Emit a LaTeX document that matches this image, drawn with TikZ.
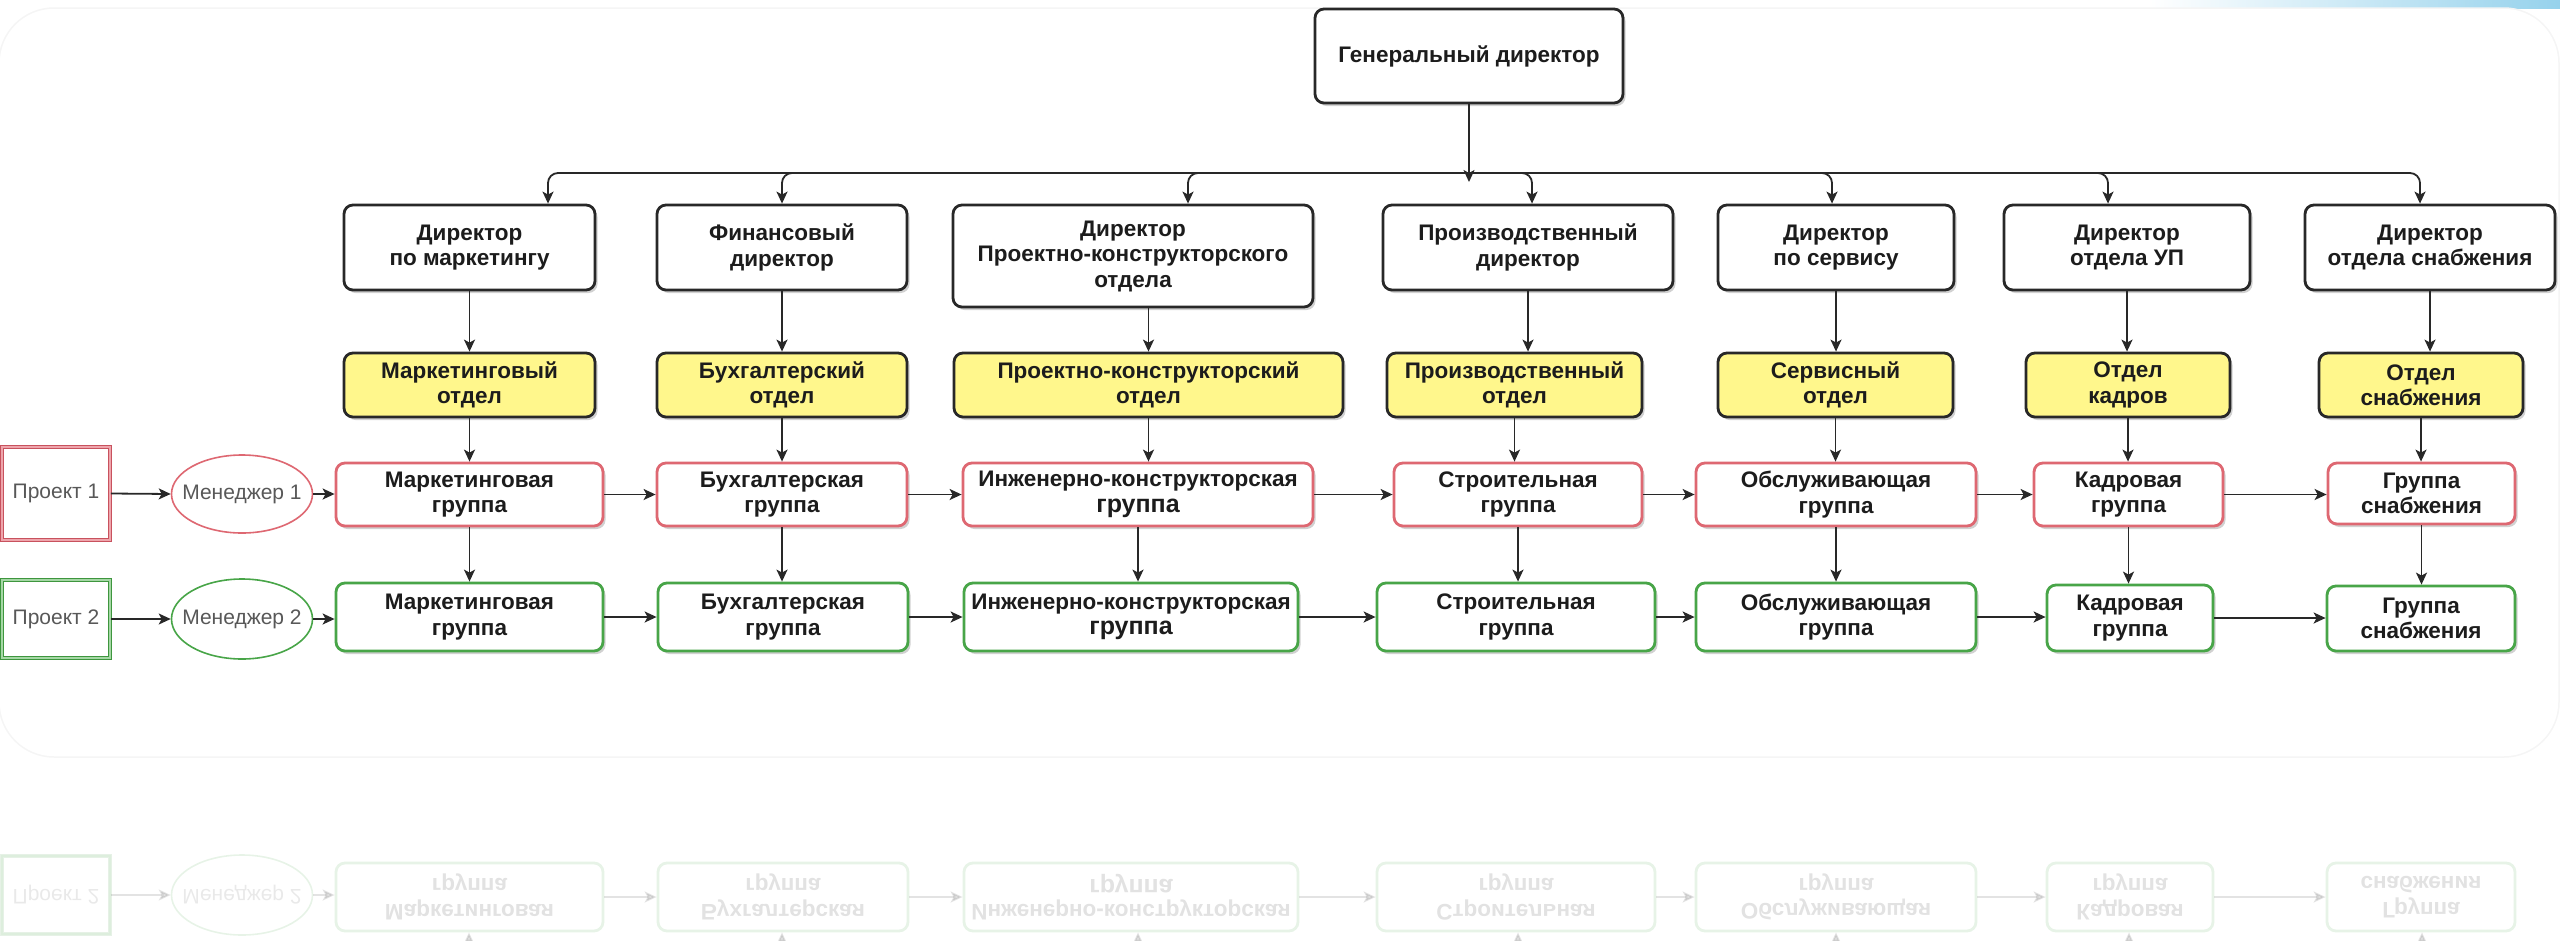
\documentclass[tikz,border=0pt]{standalone}
\usepackage{fontspec}
\setmainfont{Liberation Sans}
\usetikzlibrary{arrows.meta,shapes.geometric,shadows}
\definecolor{ink}{RGB}{28,28,28}
\definecolor{linec}{RGB}{40,40,40}
\definecolor{redb}{RGB}{222,104,114}
\definecolor{greenb}{RGB}{72,165,72}
\definecolor{yel}{RGB}{255,247,140}
\definecolor{projred}{RGB}{200,82,94}
\definecolor{projredin}{RGB}{238,165,172}
\definecolor{projgreen}{RGB}{62,150,62}
\definecolor{projgreenin}{RGB}{165,215,165}
\definecolor{txtgray}{RGB}{88,88,88}
\definecolor{skyb}{RGB}{150,210,236}
\newcommand\boxat[7]{\node[#1, minimum width={(#5-#3)*1pt}, minimum height={(#6-#4)*1pt}] (#2) at ({(#3+#5)/2},{(#4+#6)/2}) {#7};}
\begin{document}
\begin{tikzpicture}[x=1pt,y=-1pt,
  boxbase/.style={rectangle, rounded corners=9pt, line width=2.8pt, align=center, inner sep=0pt, text=ink, font=\fontsize{22.5}{25.5}\selectfont\bfseries},
  shad/.style={drop shadow={shadow xshift=2.5pt, shadow yshift=-3pt, opacity=0.18, fill=black}},
  dirbox/.style={boxbase, shad, draw=linec, fill=white},
  deptbox/.style={boxbase, shad, draw=linec, fill=yel},
  redbox/.style={boxbase, shad, draw=redb, fill=white},
  greenbox/.style={boxbase, shad, draw=greenb, fill=white},
  projbox/.style={rectangle, inner sep=0pt, fill=white, text=txtgray, font=\fontsize{21}{25}\selectfont, line width=1.6pt, double distance=1.3pt},
  mgr/.style={ellipse, inner sep=0pt, line width=1.6pt, fill=white},
  mgrtext/.style={inner sep=0pt, text=txtgray, font=\fontsize{21}{25}\selectfont},
  arr/.style={draw=linec, line width=1.8pt, -{Stealth[length=12pt,width=11pt,inset=3pt]}}
]
\useasboundingbox (0,0) rectangle (2560,940);
\clip (0,0) rectangle (2560,940);

% slide decoration
\shade[left color=white, right color=skyb] (2150,0) rectangle (2560,8);
\draw[black!4, line width=1.5pt, rounded corners=55pt] (-1,8) rectangle (2559,757);

% faint reflection of the green row
\begin{scope}[cm={1,0,0,-1,(0,1514)}, transform shape, opacity=0.13, every node/.append style={text opacity=0.13}]
  \boxat{projbox, draw=projgreen, double=projgreenin}{rp2}{2}{580}{110}{658}{Проект 2}
  \node[mgr, draw=greenb, minimum width=141pt, minimum height=80pt] (rm2) at (242,619) {};
  \node[mgrtext] (rm2t) at (242,619) {Менеджер 2};
  \boxat{boxbase, draw=greenb, fill=white}{rg1}{336}{583}{603}{651}{Маркетинговая\\группа}
  \boxat{boxbase, draw=greenb, fill=white}{rg2}{658}{583}{908}{651}{Бухгалтерская\\группа}
  \boxat{boxbase, draw=greenb, fill=white}{rg3}{964}{583}{1298}{651}{Инженерно-конструкторская\\{\fontsize{25}{25.5}\selectfont группа}}
  \boxat{boxbase, draw=greenb, fill=white}{rg4}{1377}{583}{1655}{651}{Строительная\\группа}
  \boxat{boxbase, draw=greenb, fill=white}{rg5}{1696}{583}{1976}{651}{Обслуживающая\\группа}
  \boxat{boxbase, draw=greenb, fill=white}{rg6}{2047}{583}{2213}{651}{Кадровая\\группа}
  \boxat{boxbase, draw=greenb, fill=white}{rg7}{2327}{583}{2515}{651}{Группа\\снабжения}
  \coordinate (rs1) at (469,526);
  \coordinate (rs2) at (782,526);
  \coordinate (rs3) at (1138,526);
  \coordinate (rs4) at (1518,526);
  \coordinate (rs5) at (1836,526);
  \coordinate (rs6) at (2129,526);
  \coordinate (rs7) at (2422,526);
  \draw[arr] (rs1) -- (rs1 |- rg1.north);
  \draw[arr] (rs2) -- (rs2 |- rg2.north);
  \draw[arr] (rs3) -- (rs3 |- rg3.north);
  \draw[arr] (rs4) -- (rs4 |- rg4.north);
  \draw[arr] (rs5) -- (rs5 |- rg5.north);
  \draw[arr] (rs6) -- (rs6 |- rg6.north);
  \draw[arr] (rs7) -- (rs7 |- rg7.north);
  \draw[arr] (rp2.east) -- (rm2.west);
  \draw[arr] (rm2.east) -- (rm2.east -| rg1.west);
  \draw[arr] (rg1.east) -- (rg2.west);
  \draw[arr] (rg2.east) -- (rg3.west);
  \draw[arr] (rg3.east) -- (rg4.west);
  \draw[arr] (rg4.east) -- (rg5.west);
  \draw[arr] (rg5.east) -- (rg6.west);
  \draw[arr] (rg6.east) -- (rg7.west);
\end{scope}

% general director
\boxat{dirbox}{gd}{1315}{9}{1623}{103}{Генеральный директор}

% directors
\boxat{dirbox}{d1}{344}{205}{595}{290}{Директор\\по маркетингу}
\boxat{dirbox}{d2}{657}{205}{907}{290}{Финансовый\\директор}
\boxat{dirbox}{d3}{953}{205}{1313}{307}{Директор\\Проектно-конструкторского\\отдела}
\boxat{dirbox}{d4}{1383}{205}{1673}{290}{Производственный\\директор}
\boxat{dirbox}{d5}{1718}{205}{1954}{290}{Директор\\по сервису}
\boxat{dirbox}{d6}{2004}{205}{2250}{290}{Директор\\отдела УП}
\boxat{dirbox}{d7}{2305}{205}{2555}{290}{Директор\\отдела снабжения}

% departments
\boxat{deptbox}{y1}{344}{353}{595}{417}{Маркетинговый\\отдел}
\boxat{deptbox}{y2}{657}{353}{907}{417}{Бухгалтерский\\отдел}
\boxat{deptbox}{y3}{954}{353}{1343}{417}{Проектно-конструкторский\\отдел}
\boxat{deptbox}{y4}{1387}{353}{1642}{417}{Производственный\\отдел}
\boxat{deptbox}{y5}{1718}{353}{1953}{417}{Сервисный\\отдел}
\boxat{deptbox}{y6}{2026}{353}{2230}{417}{Отдел\\кадров}
\boxat{deptbox}{y7}{2319}{353}{2523}{417}{Отдел\\снабжения}

% project 1 groups
\boxat{redbox}{r1}{336}{463}{603}{526}{Маркетинговая\\группа}
\boxat{redbox}{r2}{657}{463}{907}{526}{Бухгалтерская\\группа}
\boxat{redbox}{r3}{963}{463}{1313}{526}{Инженерно-конструкторская\\{\fontsize{25}{25.5}\selectfont группа}}
\boxat{redbox}{r4}{1394}{463}{1642}{526}{Строительная\\группа}
\boxat{redbox}{r5}{1696}{463}{1976}{526}{Обслуживающая\\группа}
\boxat{redbox}{r6}{2034}{463}{2223}{526}{Кадровая\\группа}
\boxat{redbox}{r7}{2328}{463}{2515}{524}{Группа\\снабжения}

% project 2 groups
\boxat{greenbox}{g1}{336}{583}{603}{651}{Маркетинговая\\группа}
\boxat{greenbox}{g2}{658}{583}{908}{651}{Бухгалтерская\\группа}
\boxat{greenbox}{g3}{964}{583}{1298}{651}{Инженерно-конструкторская\\{\fontsize{25}{25.5}\selectfont группа}}
\boxat{greenbox}{g4}{1377}{583}{1655}{651}{Строительная\\группа}
\boxat{greenbox}{g5}{1696}{583}{1976}{651}{Обслуживающая\\группа}
\boxat{greenbox}{g6}{2047}{585}{2213}{651}{Кадровая\\группа}
\boxat{greenbox}{g7}{2327}{586}{2515}{651}{Группа\\снабжения}

% projects and managers
\boxat{projbox, draw=projred, double=projredin}{p1}{2}{447}{110}{540}{Проект 1}
\boxat{projbox, draw=projgreen, double=projgreenin}{p2}{2}{580}{110}{658}{Проект 2}
\node[mgr, draw=redb, minimum width=141pt, minimum height=78pt] (m1) at (242,494) {};
\node[mgrtext] (m1t) at (242,494) {Менеджер 1};
\node[mgr, draw=greenb, minimum width=141pt, minimum height=80pt] (m2) at (242,619) {};
\node[mgrtext] (m2t) at (242,619) {Менеджер 2};

% top connectors
\coordinate (bus) at (1469,173);
\coordinate (gdtip) at (1469,182);
\coordinate (b1) at (548,173);
\coordinate (b2) at (782,173);
\coordinate (b3) at (1188,173);
\coordinate (b4) at (1532,173);
\coordinate (b5) at (1832,173);
\coordinate (b6) at (2108,173);
\coordinate (b7) at (2420,173);
\draw[arr, rounded corners=10pt] (bus) -- (b1) -- (b1 |- d1.north);
\draw[arr, rounded corners=10pt] (bus) -- (b2) -- (b2 |- d2.north);
\draw[arr, rounded corners=10pt] (bus) -- (b3) -- (b3 |- d3.north);
\draw[arr, rounded corners=10pt] (bus) -- (b4) -- (b4 |- d4.north);
\draw[arr, rounded corners=10pt] (bus) -- (b5) -- (b5 |- d5.north);
\draw[arr, rounded corners=10pt] (bus) -- (b6) -- (b6 |- d6.north);
\draw[arr, rounded corners=10pt] (bus) -- (b7) -- (b7 |- d7.north);
\draw[arr] (gd.south) -- (gdtip);

% director -> department
\draw[arr] (d1.south) -- (d1.south |- y1.north);
\draw[arr] (d2.south) -- (d2.south |- y2.north);
\draw[arr] (d3.south -| y3.north) -- (y3.north);
\draw[arr] (d4.south) -- (d4.south |- y4.north);
\draw[arr] (d5.south) -- (d5.south |- y5.north);
\draw[arr] (d6.south) -- (d6.south |- y6.north);
\draw[arr] (d7.south) -- (d7.south |- y7.north);

% department -> project 1 group
\draw[arr] (y1.south) -- (y1.south |- r1.north);
\draw[arr] (y2.south) -- (y2.south |- r2.north);
\draw[arr] (y3.south) -- (y3.south |- r3.north);
\draw[arr] (y4.south) -- (y4.south |- r4.north);
\draw[arr] (y5.south) -- (y5.south |- r5.north);
\draw[arr] (y6.south) -- (y6.south |- r6.north);
\draw[arr] (y7.south) -- (y7.south |- r7.north);

% project 1 group -> project 2 group
\draw[arr] (r1.south) -- (r1.south |- g1.north);
\draw[arr] (r2.south) -- (r2.south |- g2.north);
\draw[arr] (r3.south) -- (r3.south |- g3.north);
\draw[arr] (r4.south) -- (r4.south |- g4.north);
\draw[arr] (r5.south) -- (r5.south |- g5.north);
\draw[arr] (r6.south) -- (r6.south |- g6.north);
\draw[arr] (r7.south) -- (r7.south |- g7.north);

% project chains
\draw[arr] (p1.east) -- (m1.west);
\draw[arr] (m1.east) -- (m1.east -| r1.west);
\draw[arr] (r1.east) -- (r1.east -| r2.west);
\draw[arr] (r2.east) -- (r2.east -| r3.west);
\draw[arr] (r3.east) -- (r3.east -| r4.west);
\draw[arr] (r4.east) -- (r4.east -| r5.west);
\draw[arr] (r5.east) -- (r5.east -| r6.west);
\draw[arr] (r6.east) -- (r6.east -| r7.west);
\draw[arr] (p2.east) -- (m2.west);
\draw[arr] (m2.east) -- (m2.east -| g1.west);
\draw[arr] (g1.east) -- (g1.east -| g2.west);
\draw[arr] (g2.east) -- (g2.east -| g3.west);
\draw[arr] (g3.east) -- (g3.east -| g4.west);
\draw[arr] (g4.east) -- (g4.east -| g5.west);
\draw[arr] (g5.east) -- (g5.east -| g6.west);
\draw[arr] (g6.east) -- (g6.east -| g7.west);
\end{tikzpicture}
\end{document}
